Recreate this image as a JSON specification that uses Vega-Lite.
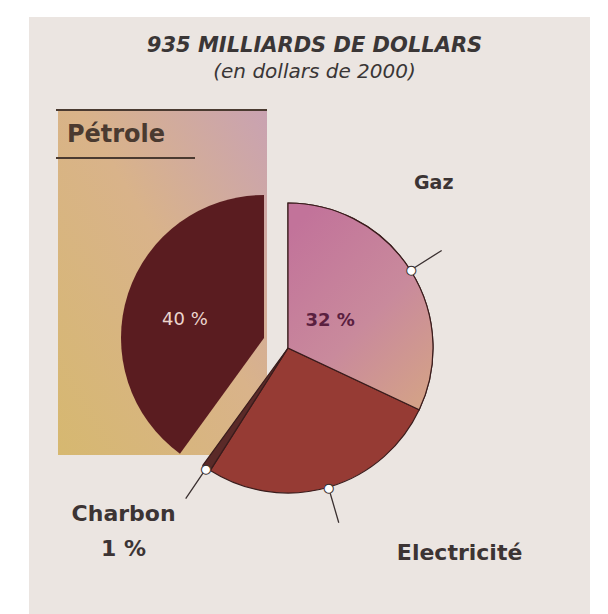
{
  "$schema": "https://vega.github.io/schema/vega-lite/v6.json",
  "width": 561,
  "height": 597,
  "autosize": "none",
  "padding": {"left": 29, "top": 17, "right": 18, "bottom": 0},
  "background": "#ffffff",
  "view": {"stroke": null, "fill": "#ebe5e1"},
  "config": {"view": {"stroke": null, "fill": "#ebe5e1"}},
  "title": {
    "text": "935 MILLIARDS DE DOLLARS",
    "subtitle": "(en dollars de 2000)",
    "font": "DejaVu Sans",
    "fontSize": 21,
    "fontStyle": "italic",
    "fontWeight": "bold",
    "color": "#3a3636",
    "subtitleFont": "DejaVu Sans",
    "subtitleFontSize": 20,
    "subtitleFontStyle": "italic",
    "subtitleColor": "#3a3636",
    "subtitlePadding": 6,
    "anchor": "middle",
    "offset": -65,
    "dx": 5
  },
  "data": {
    "values": [
      {"category": "Gaz", "value": 32},
      {"category": "Electricité", "value": 27},
      {"category": "Charbon", "value": 1},
      {"category": "Pétrole", "value": 40}
    ]
  },
  "layer": [
    {
      "transform": [{"filter": "datum.category === 'Pétrole'"}],
      "mark": {
        "type": "rect",
        "fill": {
          "gradient": "linear",
          "x1": 0, "y1": 1, "x2": 1, "y2": 0,
          "stops": [
            {"offset": 0, "color": "#d6b870"},
            {"offset": 0.55, "color": "#d9b38a"},
            {"offset": 1, "color": "#c9a2b2"}
          ]
        }
      },
      "encoding": {
        "x": {"value": 29}, "x2": {"value": 238},
        "y": {"value": 92}, "y2": {"value": 438}
      }
    },
    {
      "transform": [{"filter": "datum.category === 'Pétrole'"}],
      "mark": {"type": "rule", "color": "#4a3a30", "strokeWidth": 2},
      "encoding": {"x": {"value": 27}, "x2": {"value": 238}, "y": {"value": 93}}
    },
    {
      "transform": [{"filter": "datum.category === 'Pétrole'"}],
      "mark": {"type": "rule", "color": "#4a3a30", "strokeWidth": 2},
      "encoding": {"x": {"value": 27}, "x2": {"value": 166}, "y": {"value": 141}}
    },
    {
      "transform": [{"filter": "datum.category === 'Pétrole'"}],
      "mark": {"type": "text", "font": "DejaVu Sans", "fontSize": 24, "fontWeight": "bold", "color": "#4a3a30", "align": "center", "baseline": "middle"},
      "encoding": {"x": {"value": 87}, "y": {"value": 118}, "text": {"field": "category"}}
    },
    {
      "mark": {"type": "arc", "radius": 143, "xOffset": -45.5, "yOffset": 22.5},
      "encoding": {
        "theta": {"field": "value", "type": "quantitative", "stack": true, "scale": {"domain": [0, 100], "range": [-2.5133, 3.7699]}},
        "order": {"field": "category", "sort": "descending"},
        "color": {"field": "category", "type": "nominal", "legend": null,
          "scale": {"domain": ["Pétrole", "Gaz", "Electricité", "Charbon"], "range": ["#5a1c20", "#c47c9a", "#963b34", "#5a2a28"]}},
        "opacity": {"condition": {"test": "datum.category === 'Pétrole'", "value": 1}, "value": 0}
      }
    },
    {
      "mark": {"type": "arc", "radius": 145, "xOffset": -21.5, "yOffset": 32.5, "stroke": "#3a1c1c", "strokeWidth": 1.2},
      "encoding": {
        "theta": {"field": "value", "type": "quantitative", "stack": true},
        "order": {"field": "category", "sort": "descending"},
        "color": {"field": "category", "type": "nominal", "legend": null},
        "opacity": {"condition": {"test": "datum.category === 'Pétrole'", "value": 0}, "value": 1}
      }
    },
    {
      "mark": {
        "type": "arc", "radius": 145, "xOffset": -21.5, "yOffset": 32.5, "stroke": "#3a1c1c", "strokeWidth": 1.2,
        "fill": {
          "gradient": "linear",
          "x1": 0.2, "y1": 0, "x2": 0.9, "y2": 1,
          "stops": [
            {"offset": 0, "color": "#c2739a"},
            {"offset": 0.55, "color": "#c98a9c"},
            {"offset": 1, "color": "#d4a287"}
          ]
        }
      },
      "encoding": {
        "theta": {"field": "value", "type": "quantitative", "stack": true},
        "order": {"field": "category", "sort": "descending"},
        "opacity": {"condition": {"test": "datum.category === 'Gaz'", "value": 1}, "value": 0}
      }
    },
    {
      "mark": {"type": "arc", "radius": 182, "radius2": 145, "padAngle": 3, "xOffset": -21.5, "yOffset": 32.5, "fill": "transparent", "stroke": "#3a3030", "strokeWidth": 1.3},
      "encoding": {
        "theta": {"field": "value", "type": "quantitative", "stack": true},
        "order": {"field": "category", "sort": "descending"},
        "opacity": {"condition": {"test": "datum.category === 'Pétrole'", "value": 0}, "value": 1}
      }
    },
    {
      "mark": {"type": "text", "radius": 146, "xOffset": -21.5, "yOffset": 32.5, "font": "DejaVu Sans", "fontSize": 12, "fill": "#ffffff", "stroke": "#3a3030", "strokeWidth": 1, "align": "center", "baseline": "middle"},
      "encoding": {
        "theta": {"field": "value", "type": "quantitative", "stack": true},
        "order": {"field": "category", "sort": "descending"},
        "detail": {"field": "category"},
        "text": {"condition": {"test": "datum.category === 'Pétrole'", "value": ""}, "value": "●"}
      }
    },
    {
      "mark": {"type": "text", "radius": 50, "xOffset": -21.5, "yOffset": 32.5, "font": "DejaVu Sans", "fontSize": 18, "fontWeight": "bold", "color": "#5a2040", "align": "center", "baseline": "middle"},
      "encoding": {
        "theta": {"field": "value", "type": "quantitative", "stack": true},
        "order": {"field": "category", "sort": "descending"},
        "detail": {"field": "category"},
        "text": {"condition": {"test": "datum.category === 'Gaz'", "value": "32 %"}, "value": ""}
      }
    },
    {
      "mark": {"type": "text", "radius": 80, "xOffset": -45.5, "yOffset": 22.5, "dx": -3, "dy": 7, "font": "DejaVu Sans", "fontSize": 18, "color": "#ecd6ce", "align": "center", "baseline": "middle"},
      "encoding": {
        "theta": {"field": "value", "type": "quantitative", "stack": true},
        "order": {"field": "category", "sort": "descending"},
        "detail": {"field": "category"},
        "text": {"condition": {"test": "datum.category === 'Pétrole'", "value": "40 %"}, "value": ""}
      }
    },
    {
      "mark": {"type": "text", "radius": 220, "xOffset": -21.5, "yOffset": 32.5, "dx": -40, "dy": -47, "font": "DejaVu Sans", "fontSize": 19, "fontWeight": "bold", "color": "#3c3434", "align": "center", "baseline": "middle"},
      "encoding": {
        "theta": {"field": "value", "type": "quantitative", "stack": true},
        "order": {"field": "category", "sort": "descending"},
        "detail": {"field": "category"},
        "text": {"condition": {"test": "datum.category === 'Gaz'", "value": "Gaz"}, "value": ""}
      }
    },
    {
      "mark": {"type": "text", "radius": 210, "xOffset": -21.5, "yOffset": 32.5, "dx": 113, "dy": 3, "font": "DejaVu Sans", "fontSize": 22, "fontWeight": "bold", "color": "#3c3434", "align": "center", "baseline": "middle"},
      "encoding": {
        "theta": {"field": "value", "type": "quantitative", "stack": true},
        "order": {"field": "category", "sort": "descending"},
        "detail": {"field": "category"},
        "text": {"condition": {"test": "datum.category === 'Electricité'", "value": "Electricité"}, "value": ""}
      }
    },
    {
      "mark": {"type": "text", "radius": 200, "xOffset": -21.5, "yOffset": 32.5, "dx": -52, "dy": 1, "lineBreak": "\n", "lineHeight": 35, "font": "DejaVu Sans", "fontSize": 22, "fontWeight": "bold", "color": "#3c3434", "align": "center", "baseline": "middle"},
      "encoding": {
        "theta": {"field": "value", "type": "quantitative", "stack": true},
        "order": {"field": "category", "sort": "descending"},
        "detail": {"field": "category"},
        "text": {"condition": {"test": "datum.category === 'Charbon'", "value": "Charbon\n1 %"}, "value": ""}
      }
    }
  ]
}
